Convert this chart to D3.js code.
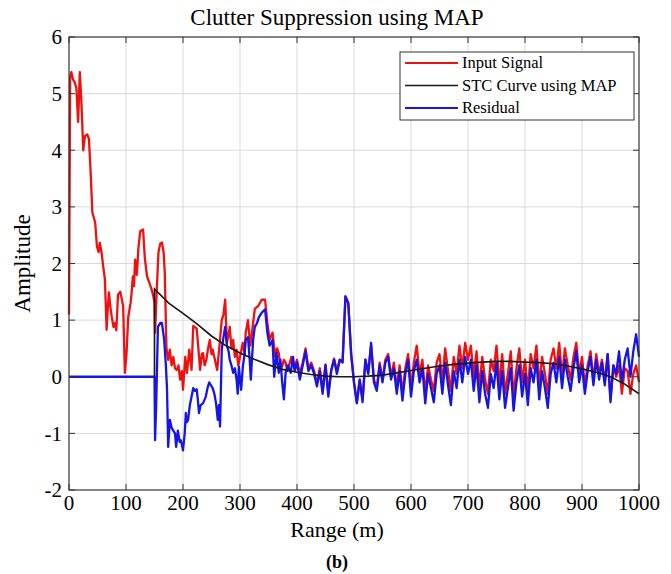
<!DOCTYPE html>
<html>
<head>
<meta charset="utf-8">
<title>Clutter Suppression using MAP</title>
<script src="https://d3js.org/d3.v7.min.js"></script>
<style>
    body { margin: 0; background: #fff; }
    svg { font-family: "Liberation Serif", "Times New Roman", serif; }
</style>
</head>
<body>
<div id="chart"></div>
<script>
// ---- data ----
var xTicks = [0, 100, 200, 300, 400, 500, 600, 700, 800, 900, 1000];
var yTicks = [-2, -1, 0, 1, 2, 3, 4, 5, 6];

// input signal, irregular samples up to 395 m
var inputRange = [0, 2, 4, 7, 10, 13, 16, 19, 22, 25, 28, 32, 35, 38, 41, 46, 49, 52, 54, 57,
    60, 63, 66, 68, 70, 73, 75, 78, 81, 83, 86, 90, 93, 95, 98, 101, 104, 108, 110, 112,
    114, 116, 119, 122, 125, 130, 133, 137, 141, 145, 148, 150, 151, 154, 157, 160, 163, 166, 168, 171,
    174, 177, 180, 183, 186, 189, 192, 195, 198, 200, 204, 207, 211, 215, 218, 224, 227, 230, 233, 235,
    238, 241, 244, 247, 250, 252, 256, 260, 264, 268, 271, 274, 277, 280, 282, 285, 288, 291, 294, 297,
    300, 303, 305, 308, 310, 314, 318, 321, 326, 332, 338, 344, 348, 352, 357, 362, 365, 368, 371, 374,
    377, 380, 383, 386, 390, 395];
var inputAmp = [1.1, 5.3, 5.38, 5.25, 5.2, 5.1, 4.5, 5.38, 4.8, 4.0, 4.25, 4.28, 4.2, 3.6, 2.9, 2.72, 2.3, 2.2, 2.37, 2.2,
    1.95, 1.72, 0.83, 1.2, 1.49, 1.2, 1.06, 0.88, 0.95, 0.82, 1.45, 1.5, 1.35, 1.24, 0.07, 0.42, 1.06, 1.3, 1.5, 1.77,
    1.6, 2.07, 1.8, 2.3, 2.57, 2.6, 2.1, 1.77, 1.66, 1.54, 1.42, 1.3, 0.78, 1.54, 2.2, 2.35, 2.37, 2.2, 1.84, 0.5,
    0.3, 0.48, 0.2, 0.35, 0.15, 0.12, 0.2, -0.05, 0.1, -0.23, 0.35, 0.07, 0.48, 0.12, 0.9, 0.85, 0.5, 0.12, 0.4, 0.42,
    0.2, 0.3, 0.5, 0.65, 0.4, 0.48, 0.3, 0.12, 0.55, 1.0, 1.1, 1.36, 0.6, 0.75, 0.88, 0.5, 0.65, 0.35, 0.48, 0.2,
    0.35, 0.5, 0.6, 0.4, 0.78, 1.0, 0.55, 0.78, 1.2, 1.25, 1.36, 1.36, 0.95, 0.65, 0.78, 0.35, 0.5, 0.42, 0.15, 0.18,
    0.3, 0.25, 0.1, 0.2, 0.35, 0.15];

// residual, irregular samples up to 396 m
var residualRange = [0, 150, 151, 153, 156, 160, 163, 167, 170, 172, 174, 177, 180, 183, 186, 188, 191, 194, 196, 198,
    200, 203, 205, 207, 209, 212, 214, 216, 218, 221, 224, 226, 228, 231, 235, 238, 240, 243, 246, 249,
    252, 255, 258, 261, 263, 265, 268, 271, 274, 277, 280, 282, 285, 288, 291, 294, 296, 298, 302, 305,
    308, 310, 314, 317, 319, 321, 323, 326, 330, 333, 338, 344, 348, 352, 357, 360, 364, 368, 371, 374,
    377, 380, 384, 389, 393, 396];
var residualAmp = [0, 0, -1.12, -0.5, 0.88, 0.95, 0.95, 0.65, 0.2, -0.23, -1.24, -0.76, -0.9, -0.95, -1.0, -1.24, -0.95, -1.15, -1.12, -1.2,
    -1.3, -1.0, -0.64, -0.8, -0.76, -0.5, -0.4, -0.3, -0.2, -0.25, -0.22, -0.4, -0.64, -0.5, -0.47, -0.4, -0.35, -0.2, -0.1, -0.15,
    -0.2, -0.3, -0.47, -0.76, -0.5, -0.88, 0.48, 0.7, 0.88, 0.55, 0.45, 0.3, 0.2, 0.07, 0.15, -0.05, -0.3, 0.18, -0.23, 0.18,
    0.4, 0.65, 0.7, 0.3, -0.05, 0.3, 0.65, 0.88, 0.95, 1.05, 1.13, 1.19, 0.78, 0.55, 0.65, 0.0, 0.42, 0.07, 0.3, -0.1,
    -0.4, 0.07, 0.2, 0.07, 0.35, 0.1];

// from 400 m to 1000 m both signals are sampled every 5 m
var tailRange = d3.range(400, 1001, 5);
var inputTail = [
    0.3, 0.05, 0.25, 0.5, 0.15, 0.25, 0.1, -0.12, 0.15, -0.25,
    0.22, -0.3, 0.12, 0.32, 0.1, 0.3, 0.28, 1.42, 1.3, 0.4,
    -0.1, -0.45, -0.05, -0.4, 0.3, 0.08, 0.55, -0.05, -0.2, 0.25,
    -0.05, 0.3, 0.4, 0.0, 0.25, -0.2, 0.2, -0.3, 0.15, 0.4,
    -0.2, 0.25, 0.55, 0.05, 0.3, -0.3, 0.2, -0.05, -0.25, 0.25,
    0.4, -0.1, 0.5, 0.1, -0.25, 0.35, 0.05, 0.55, 0.15, 0.6,
    0.3, 0.55, 0.0, 0.45, -0.2, 0.35, -0.05, -0.3, 0.3, 0.1,
    0.55, -0.15, 0.4, -0.3, 0.05, 0.45, -0.35, 0.15, 0.5, -0.1,
    0.3, -0.25, 0.4, 0.15, 0.55, -0.15, 0.35, 0.05, -0.3, 0.3,
    0.5, 0.15, 0.6, 0.0, 0.5, 0.2, -0.05, 0.35, 0.6, 0.05,
    0.35, -0.15, 0.2, 0.45, -0.05, 0.4, 0.05, 0.3, -0.1, 0.4,
    -0.4, 0.2, 0.0, 0.2, -0.3, 0.15, 0.1, -0.3, 0.05, 0.2,
    -0.1];
var residualTail = [
    0.25, -0.05, 0.2, 0.45, 0.1, 0.2, 0.05, -0.17, 0.1, -0.3,
    0.2, -0.35, 0.1, 0.3, 0.05, 0.3, 0.25, 1.42, 1.3, 0.4,
    -0.1, -0.47, -0.05, -0.45, 0.3, 0.05, 0.6, -0.1, -0.25, 0.2,
    -0.1, 0.25, 0.35, -0.05, 0.15, -0.3, 0.1, -0.42, 0.05, 0.3,
    -0.35, 0.1, 0.3, -0.1, 0.15, -0.47, 0.05, -0.2, -0.45, 0.05,
    0.2, -0.3, 0.25, -0.15, -0.5, 0.1, -0.2, 0.3, -0.1, 0.35,
    0.05, 0.3, -0.25, 0.2, -0.45, 0.1, -0.3, -0.55, 0.05, -0.2,
    0.25, -0.4, 0.1, -0.55, -0.2, 0.15, -0.6, -0.1, 0.2, -0.35,
    0.05, -0.5, 0.15, -0.1, 0.3, -0.4, 0.1, -0.2, -0.55, 0.05,
    0.25, -0.1, 0.35, -0.2, 0.3, 0.0, -0.25, 0.15, 0.45, -0.1,
    0.2, -0.3, 0.1, 0.35, -0.15, 0.3, -0.05, 0.25, -0.15, 0.4,
    -0.45, 0.2, 0.05, 0.45, -0.1, 0.3, 0.5, 0.0, 0.45, 0.75,
    0.35];

// STC curve (starts at 150 m)
var stcRange = [150, 150, 175, 200, 225, 250, 275, 300, 325, 350, 375, 400, 425, 450, 475, 500, 525, 550, 575,
    600, 625, 650, 675, 700, 725, 750, 775, 800, 825, 850, 875, 900, 925, 950, 975, 1000];
var stcAmp = [0, 1.55, 1.3, 1.12, 0.93, 0.72, 0.55, 0.42, 0.31, 0.21, 0.13, 0.08, 0.04, 0.01, 0.0, 0.0, 0.01, 0.03, 0.07,
    0.11, 0.15, 0.19, 0.22, 0.24, 0.26, 0.27, 0.27, 0.26, 0.25, 0.23, 0.19, 0.14, 0.08, 0.0, -0.13, -0.3];

var seriesNames = ["Input Signal", "STC Curve using MAP", "Residual"];
var seriesColors = ["#f01010", "#1a1a1a", "#1515e6"];

// ---- layout ----
var width = 671, height = 574;
var margin = { left: 69, right: 32, top: 37, bottom: 84 };
var plotW = width - margin.left - margin.right;
var plotH = height - margin.top - margin.bottom;

var svg = d3.select("#chart").append("svg")
    .attr("width", width).attr("height", height);

var x = d3.scaleLinear().domain([0, 1000]).range([margin.left, margin.left + plotW]);
var y = d3.scaleLinear().domain([-2, 6]).range([margin.top + plotH, margin.top]);

// title
svg.append("text")
    .attr("x", 337).attr("y", 25)
    .attr("text-anchor", "middle")
    .style("font-size", "23px")
    .text("Clutter Suppression using MAP");

// grid
var grid = svg.append("g").attr("stroke", "#d9d9d9").attr("stroke-width", 1);
grid.selectAll(".gx").data(xTicks.slice(1, -1)).enter().append("line")
    .attr("x1", d => x(d)).attr("x2", d => x(d))
    .attr("y1", y(-2)).attr("y2", y(6));
grid.selectAll(".gy").data(yTicks.slice(1, -1)).enter().append("line")
    .attr("x1", x(0)).attr("x2", x(1000))
    .attr("y1", d => y(d)).attr("y2", d => y(d));

// lines
function toPoints(r, a) { return r.map((d, i) => [d, a[i]]); }
var inputData = toPoints(inputRange.concat(tailRange), inputAmp.concat(inputTail));
var residualData = toPoints(residualRange.concat(tailRange), residualAmp.concat(residualTail));
var stcData = toPoints(stcRange, stcAmp);

var line = d3.line().x(d => x(d[0])).y(d => y(d[1]));

svg.append("path").datum(inputData)
    .attr("d", line).attr("fill", "none")
    .attr("stroke", seriesColors[0]).attr("stroke-width", 2.3).attr("stroke-linejoin", "round");
svg.append("path").datum(residualData)
    .attr("d", line).attr("fill", "none")
    .attr("stroke", seriesColors[2]).attr("stroke-width", 2.3).attr("stroke-linejoin", "round");
svg.append("path").datum(stcData)
    .attr("d", line).attr("fill", "none")
    .attr("stroke", seriesColors[1]).attr("stroke-width", 1.7);

// box and inward ticks
svg.append("rect")
    .attr("x", x(0)).attr("y", y(6))
    .attr("width", plotW).attr("height", plotH)
    .attr("fill", "none").attr("stroke", "#333").attr("stroke-width", 1.2);

var tl = 6;
var ticks = svg.append("g").attr("stroke", "#333").attr("stroke-width", 1);
xTicks.forEach(function (t) {
    ticks.append("line").attr("x1", x(t)).attr("x2", x(t)).attr("y1", y(-2)).attr("y2", y(-2) - tl);
    ticks.append("line").attr("x1", x(t)).attr("x2", x(t)).attr("y1", y(6)).attr("y2", y(6) + tl);
});
yTicks.forEach(function (t) {
    ticks.append("line").attr("x1", x(0)).attr("x2", x(0) + tl).attr("y1", y(t)).attr("y2", y(t));
    ticks.append("line").attr("x1", x(1000)).attr("x2", x(1000) - tl).attr("y1", y(t)).attr("y2", y(t));
});

// tick labels
svg.selectAll(".xl").data(xTicks).enter().append("text")
    .attr("x", d => x(d)).attr("y", y(-2) + 20)
    .attr("text-anchor", "middle")
    .style("font-size", "21px")
    .text(d => d);
svg.selectAll(".yl").data(yTicks).enter().append("text")
    .attr("x", x(0) - 7).attr("y", d => y(d))
    .attr("dy", "0.35em")
    .attr("text-anchor", "end")
    .style("font-size", "21px")
    .text(d => d);

// axis labels
svg.append("text")
    .attr("x", 337).attr("y", 537)
    .attr("text-anchor", "middle")
    .style("font-size", "22px")
    .text("Range (m)");
svg.append("text")
    .attr("transform", "translate(30," + (margin.top + plotH / 2) + ") rotate(-90)")
    .attr("text-anchor", "middle")
    .style("font-size", "23px")
    .text("Amplitude");
svg.append("text")
    .attr("x", 337).attr("y", 568)
    .attr("text-anchor", "middle")
    .style("font-size", "18px").style("font-weight", "bold")
    .text("(b)");

// legend
var legend = svg.append("g").attr("transform", "translate(400,52)");
legend.append("rect")
    .attr("width", 234).attr("height", 68)
    .attr("fill", "#fff").attr("stroke", "#333").attr("stroke-width", 1);
seriesNames.forEach(function (name, i) {
    var ly = 11 + i * 22.5;
    legend.append("line")
        .attr("x1", 5).attr("x2", 58).attr("y1", ly).attr("y2", ly)
        .attr("stroke", seriesColors[i]).attr("stroke-width", i == 1 ? 1.6 : 2);
    legend.append("text")
        .attr("x", 62).attr("y", ly).attr("dy", "0.33em")
        .style("font-size", "16.5px")
        .text(name);
});
</script>
</body>
</html>
